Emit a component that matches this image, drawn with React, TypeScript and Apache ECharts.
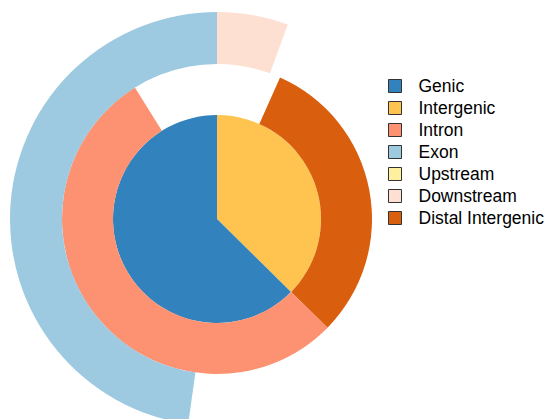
import React, { useEffect, useRef } from "react";
import * as echarts from "echarts";

const innerNames = ["Intergenic", "Genic"];
const innerValues = [37.4, 62.6];
const middleNames = ["", "Distal Intergenic", "Intron", ""];
const middleValues = [24, 110.5, 193.5, 32];
const outerNames = ["Downstream", "Upstream", "", "Exon"];
const outerValues = [20, 0, 168, 172];
const legendNames = ["Genic", "Intergenic", "Intron", "Exon", "Upstream", "Downstream", "Distal Intergenic"];
const colors: Record<string, string> = {
  Genic: "#3182bd",
  Intergenic: "#fec44f",
  Intron: "#fc9272",
  Exon: "#9ecae1",
  Upstream: "#fff0a0",
  Downstream: "#fee0d2",
  "Distal Intergenic": "#d95f0e",
};

function mk(names: string[], values: number[]) {
  return names.map((n, i) => ({
    name: n === "" ? "gap" + i : n,
    value: values[i],
    itemStyle: { color: n === "" ? "rgba(0,0,0,0)" : colors[n] },
    emphasis: { disabled: true },
  }));
}

export default function App() {
  const ref = useRef<HTMLDivElement>(null);
  useEffect(() => {
    const chart = echarts.init(ref.current!, undefined, { renderer: "svg" });
    const common = {
      type: "pie",
      center: [217, 219],
      startAngle: 90,
      clockwise: true,
      label: { show: false },
      labelLine: { show: false },
      silent: true,
      avoidLabelOverlap: false,
      stillShowZeroSum: true,
    };
    chart.setOption({
      animation: false,
      legend: {
        orient: "vertical",
        left: 388,
        top: 77,
        padding: 0,
        itemWidth: 13,
        itemHeight: 13,
        itemGap: 4.0,
        icon: "rect",
        data: legendNames,
        selectedMode: false,
        itemStyle: { borderColor: "#333", borderWidth: 1 },
        textStyle: {
          fontFamily: "Liberation Sans, Arial, sans-serif",
          fontSize: 17.5,
          color: "#000",
          padding: [0, 0, 0, 12],
        },
      },
      series: [
        { ...common, radius: [0, 104], data: mk(innerNames, innerValues) },
        { ...common, radius: [104, 155], data: mk(middleNames, middleValues) },
        { ...common, radius: [155, 207], data: mk(outerNames, outerValues) },
      ],
    });
    return () => chart.dispose();
  }, []);
  return <div ref={ref} style={{ width: 547, height: 419, position: "absolute", left: 0, top: 0 }} />;
}
